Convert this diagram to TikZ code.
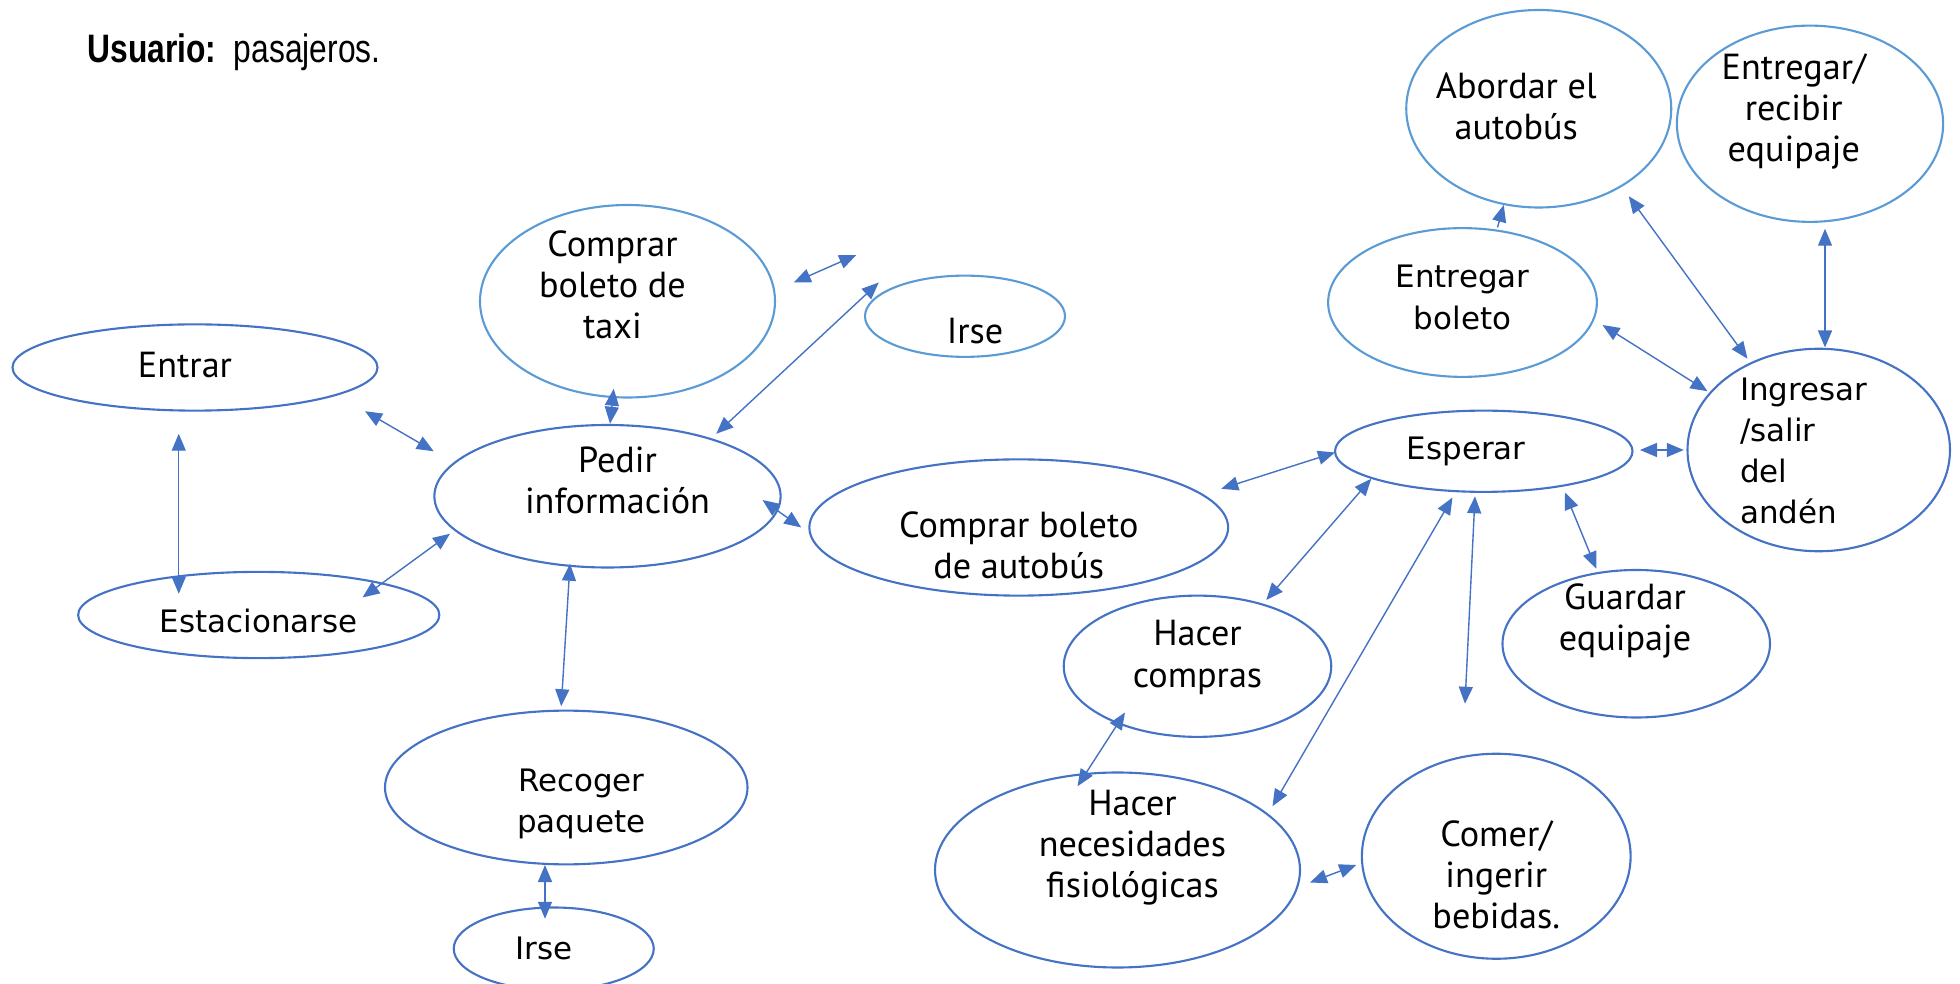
\documentclass[tikz,border=0pt]{standalone}
\usepackage{fontspec}
\setmainfont{PT Sans}
\newfontfamily\anchafont{DejaVu Sans}
\newfontfamily\titfont[FakeStretch=0.8]{Liberation Sans}
\usetikzlibrary{shapes.geometric,arrows.meta}
\definecolor{linea}{HTML}{4472C4}
\definecolor{lineaclara}{HTML}{5B9BD5}

\begin{document}
\begin{tikzpicture}[
			x=0.125mm, y=-0.125mm,
			>={Triangle[length=1.7mm,width=1.4mm]},
			every node/.style = {font=\fontsize{10.3}{11.7}\selectfont, align=center},
			caso/.style       = {ellipse, draw=linea, line width=0.6pt, inner sep=0pt},
			casoclaro/.style  = {caso, draw=lineaclara},
			ancha/.style      = {font=\anchafont\fontsize{8.8}{11.7}\selectfont},
			sz/.style 2 args  = {minimum width=#1*0.125mm, minimum height=#2*0.125mm},
			flecha/.style     = {<->, draw=linea, line width=0.4pt}
			]
			\useasboundingbox (0,0) rectangle (1568,787);
			
			%--- titulo ---
			\node[anchor=west, font=\titfont\fontsize{11.3}{13}\selectfont] (titulo) at (60,42) {\textbf{Usuario:}\ \ pasajeros.};
			
			%--- casos de uso, lado izquierdo ---
			\node[caso, sz={292}{69}, label={[shift={(-8,-2)}]center:Entrar}] (entrar) at (156,294) {};
			\node[caso, sz={289}{69}, label={[ancha, shift={(0,5)}]center:Estacionarse}] (estac) at (207,492) {};
			\node[casoclaro, sz={236}{154}, label={[shift={(-12,-13)}]center:{Comprar\\boleto de\\taxi}}] (taxi) at (502,241) {};
			\node[casoclaro, sz={160}{65}, label={[shift={(8,12)}]center:Irse}] (irse) at (772,253) {};
			\node[caso, sz={277}{114}, label={[shift={(8,-13)}]center:{Pedir\\información}}] (pedir) at (486,397) {};
			\node[caso, sz={335}{109}, label={[shift={(0,14)}]center:{Comprar boleto\\de autobús}}] (autobus) at (815,422) {};
			\node[caso, sz={290}{123}, label={[ancha, shift={(12,13)}]center:{Recoger\\paquete}}] (recoger) at (453,630) {};
			\node[caso, sz={160}{66}, label={[ancha, shift={(-8,0)}]center:Irse}] (irseb) at (443,759) {};
			
			%--- casos de uso, lado derecho ---
			\node[caso, sz={238}{65}, label={[ancha, shift={(-14,0)}]center:Esperar}] (esperar) at (1187,361) {};
			\node[caso, sz={214}{113}, label={[shift={(0,-7)}]center:{Hacer\\compras}}] (compras) at (958,533) {};
			\node[caso, sz={292}{156}, label={[shift={(12,-18)}]center:{Hacer\\necesidades\\fisiológicas}}] (necesid) at (894,696) {};
			\node[caso, sz={215}{164}, label={[shift={(0,15)}]center:{Comer/\\ingerir\\bebidas.}}] (comer) at (1197,685) {};
			\node[caso, sz={214}{118}, label={[shift={(-9,-18)}]center:{Guardar\\equipaje}}] (guardar) at (1309,515) {};
			\node[casoclaro, sz={215}{119}, label={[ancha, shift={(0,-4)}]center:{Entregar\\boleto}}] (entregar) at (1170,242) {};
			\node[casoclaro, sz={212}{158}, label={[shift={(-18,-2)}]center:{Abordar el\\autobús}}] (abordar) at (1231,87) {};
			\node[casoclaro, sz={213}{157}, label={[shift={(-13,-10)}]center:{Entregar/\\recibir\\equipaje}}] (equipaje) at (1448,99) {};
			\node[caso, sz={210}{162}, label={[ancha, align=left, shift={(-12,1)}]center:{Ingresar\\/salir\\del\\andén}}] (ingresar) at (1455,360) {};
			
			%--- extremos sueltos ---
			\coordinate (sueltoA) at (685,204);
			\coordinate (sueltoB) at (1172,563);
			
			%--- relaciones (flechas) ---
			\draw[flecha] ([shift={(136,35)}]entrar.center) -- ([shift={(-139,-36)}]pedir.center);
			\draw[flecha] ([shift={(-13,53)}]entrar.center) -- ([shift={(-64,-17)}]estac.center);
			\draw[flecha] ([shift={(83,-14)}]estac.center) -- ([shift={(-126,30)}]pedir.center);
			\draw[flecha] ([shift={(-11,70)}]taxi.center) -- ([shift={(2,-58)}]pedir.center);
			\draw[flecha] ([shift={(133,-15)}]taxi.center) -- (sueltoA);
			\draw[flecha] ([shift={(-69,-27)}]irse.center) -- ([shift={(87,-50)}]pedir.center);
			\draw[flecha] ([shift={(124,3)}]pedir.center) -- ([shift={(-174,0)}]autobus.center);
			\draw[flecha] ([shift={(-30,54)}]pedir.center) -- ([shift={(-4,-65)}]recoger.center);
			\draw[flecha] ([shift={(-17,62)}]recoger.center) -- ([shift={(-7,-24)}]irseb.center);
			
			\draw[flecha] ([shift={(162,-31)}]autobus.center) -- ([shift={(-119,1)}]esperar.center);
			\draw[flecha] ([shift={(-90,22)}]esperar.center) -- ([shift={(55,-53)}]compras.center);
			\draw[flecha] ([shift={(-58,37)}]compras.center) -- ([shift={(-32,-67)}]necesid.center);
			\draw[flecha] ([shift={(-25,37)}]esperar.center) -- ([shift={(124,-51)}]necesid.center);
			\draw[flecha] ([shift={(-7,36)}]esperar.center) -- (sueltoB);
			\draw[flecha] ([shift={(65,33)}]esperar.center) -- ([shift={(-32,-60)}]guardar.center);
			\draw[flecha] ([shift={(125,-1)}]esperar.center) -- ([shift={(-108,0)}]ingresar.center);
			\draw[flecha] ([shift={(154,10)}]necesid.center) -- ([shift={(-112,7)}]comer.center);
			
			\draw[flecha, ->] ([shift={(28,-60)}]entregar.center) -- ([shift={(-28,77)}]abordar.center);
			\draw[flecha] ([shift={(112,18)}]entregar.center) -- ([shift={(-89,-47)}]ingresar.center);
			\draw[flecha] ([shift={(72,70)}]abordar.center) -- ([shift={(-57,-73)}]ingresar.center);
			\draw[flecha] ([shift={(12,84)}]equipaje.center) -- ([shift={(5,-82)}]ingresar.center);
		\end{tikzpicture}
\end{document}
